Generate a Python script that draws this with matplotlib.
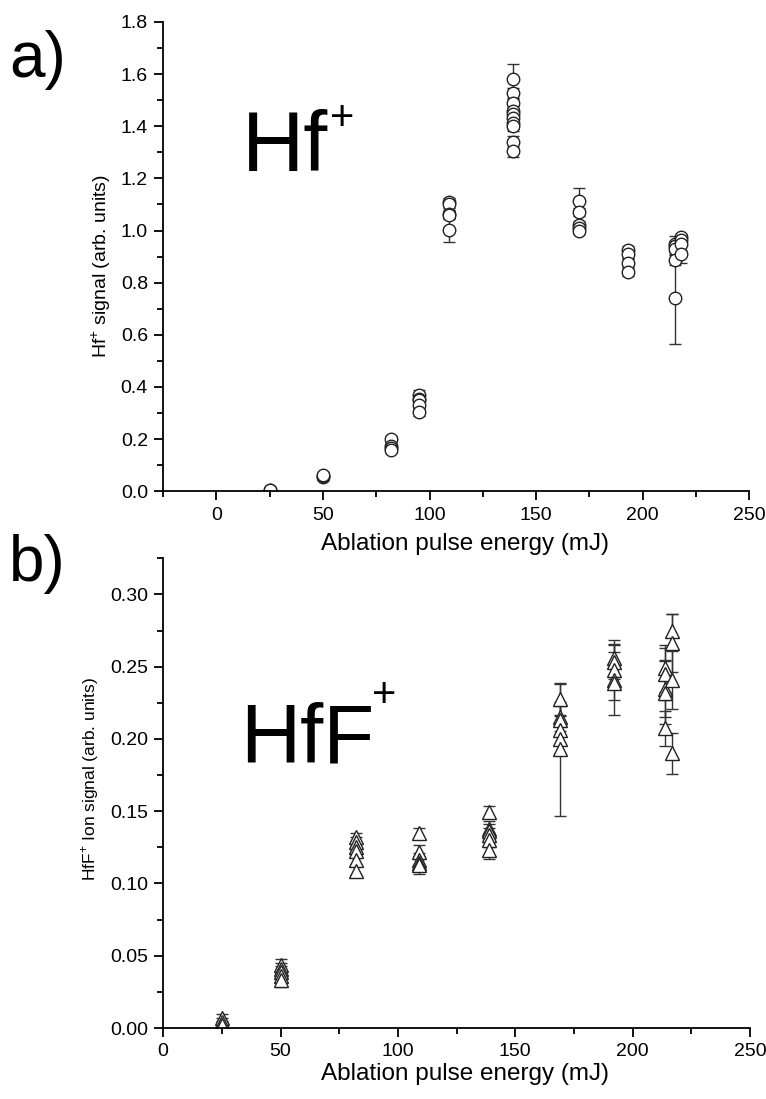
import numpy as np
import matplotlib
matplotlib.use("Agg")
from matplotlib import pyplot as plt
from matplotlib.ticker import MultipleLocator

plt.rcParams['font.family'] = ['Liberation Sans', 'DejaVu Sans']
plt.rcParams['mathtext.fontset'] = 'custom'
plt.rcParams['mathtext.rm'] = 'Liberation Sans'

# a) Hf+ signal vs ablation energy
hf_energy = [25, 25,
             50, 50, 50,
             82, 82, 82, 82,
             95, 95, 95, 95, 95,
             109, 109, 109, 109, 109,
             139, 139, 139, 139, 139, 139, 139, 139, 139, 139,
             170, 170, 170, 170, 170,
             193, 193, 193, 193,
             215, 215, 215, 215, 215,
             218, 218, 218, 218]
hf_signal = [0.004, 0.006,
             0.055, 0.058, 0.062,
             0.200, 0.173, 0.165, 0.157,
             0.368, 0.355, 0.349, 0.330, 0.304,
             1.108, 1.100, 1.065, 1.060, 1.004,
             1.583, 1.526, 1.490, 1.458, 1.446, 1.430, 1.411, 1.400, 1.341, 1.306,
             1.115, 1.071, 1.023, 1.010, 1.000,
             0.927, 0.910, 0.876, 0.842,
             0.950, 0.940, 0.930, 0.887, 0.740,
             0.975, 0.965, 0.947, 0.911]
hf_err = [0.010, 0.008,
          0.010, 0.010, 0.010,
          0.012, 0.010, 0.010, 0.010,
          0.020, 0.015, 0.015, 0.015, 0.015,
          0.015, 0.015, 0.015, 0.015, 0.047,
          0.055, 0.020, 0.020, 0.020, 0.020, 0.020, 0.020, 0.020, 0.020, 0.025,
          0.048, 0.015, 0.015, 0.015, 0.015,
          0.015, 0.015, 0.015, 0.015,
          0.030, 0.020, 0.020, 0.020, 0.176,
          0.010, 0.010, 0.020, 0.035]

# b) HfF+ signal vs ablation energy
hff_energy = [25, 25, 25,
              50, 50, 50, 50, 50,
              82, 82, 82, 82, 82, 82,
              109, 109, 109, 109, 109,
              139, 139, 139, 139, 139, 139,
              169, 169, 169, 169, 169, 169,
              192, 192, 192, 192, 192,
              214, 214, 214, 214, 214,
              217, 217, 217, 217]
hff_signal = [0.0067, 0.0040, 0.0020,
              0.0436, 0.0410, 0.0390, 0.0360, 0.0332,
              0.1319, 0.1289, 0.1254, 0.1224, 0.1162, 0.1088,
              0.1346, 0.1219, 0.1162, 0.1139, 0.1125,
              0.1496, 0.1380, 0.1360, 0.1335, 0.1300, 0.1230,
              0.2273, 0.2153, 0.2130, 0.2061, 0.2003, 0.1930,
              0.2557, 0.2535, 0.2480, 0.2407, 0.2390,
              0.2488, 0.2450, 0.2349, 0.2320, 0.2073,
              0.2745, 0.2665, 0.2407, 0.1900]
hff_err = [0.003, 0.003, 0.003,
           0.004, 0.004, 0.004, 0.004, 0.005,
           0.003, 0.003, 0.003, 0.003, 0.003, 0.003,
           0.004, 0.005, 0.005, 0.005, 0.006,
           0.004, 0.005, 0.005, 0.005, 0.005, 0.006,
           0.011, 0.010, 0.010, 0.010, 0.010, 0.046,
           0.013, 0.012, 0.012, 0.024, 0.012,
           0.016, 0.018, 0.020, 0.022, 0.012,
           0.012, 0.020, 0.020, 0.014]

fig = plt.figure(figsize=(7.66, 10.99), dpi=100)
ax1 = fig.add_axes([0.213, 0.553, 0.765, 0.427])
ax2 = fig.add_axes([0.213, 0.0646, 0.766, 0.4274])


def style_axes(ax):
    for s in ['top', 'right']:
        ax.spines[s].set_visible(False)
    for s in ['left', 'bottom']:
        ax.spines[s].set_linewidth(1.3)
    ax.tick_params(which='major', direction='out', length=6.5, width=1.3, labelsize=14, pad=4.5)
    ax.tick_params(which='minor', direction='out', length=4.3, width=1.3)
    ax.set_xlabel('Ablation pulse energy (mJ)', fontsize=17.5, labelpad=6)


ax1.errorbar(hf_energy, hf_signal, yerr=hf_err, fmt='o', mfc='white', mec='#222222',
             ms=9, mew=1.0, ecolor='#333333', elinewidth=1.0, capsize=4, capthick=1.0)
ax1.set_xlim(-25, 250)
ax1.set_ylim(0, 1.8)
ax1.xaxis.set_major_locator(MultipleLocator(50))
ax1.xaxis.set_minor_locator(MultipleLocator(25))
ax1.yaxis.set_major_locator(MultipleLocator(0.2))
ax1.yaxis.set_minor_locator(MultipleLocator(0.1))
ax1.yaxis.set_major_formatter(plt.FormatStrFormatter('%.1f'))
style_axes(ax1)
ax1.xaxis.set_label_coords(0.515, -0.09)
ax1.set_ylabel(r'Hf$^{\mathregular{+}}$ signal (arb. units)', fontsize=14)
ax1.yaxis.set_label_coords(-0.086, 0.48)
ax1.text(12, 1.23, 'Hf', fontsize=62, va='baseline')
ax1.text(53.5, 1.385, '+', fontsize=30, va='baseline')

ax2.errorbar(hff_energy, hff_signal, yerr=hff_err, fmt='^', mfc='white', mec='#222222',
             ms=10, mew=1.0, ecolor='#333333', elinewidth=1.0, capsize=4, capthick=1.0)
ax2.set_xlim(0, 250)
ax2.set_ylim(0, 0.325)
ax2.xaxis.set_major_locator(MultipleLocator(50))
ax2.xaxis.set_minor_locator(MultipleLocator(25))
ax2.yaxis.set_major_locator(MultipleLocator(0.05))
ax2.yaxis.set_minor_locator(MultipleLocator(0.025))
ax2.yaxis.set_major_formatter(plt.FormatStrFormatter('%.2f'))
style_axes(ax2)
ax2.xaxis.set_label_coords(0.515, -0.075)
ax2.set_ylabel(r'HfF$^{\mathregular{+}}$ Ion signal (arb. units)', fontsize=12.5)
ax2.yaxis.set_label_coords(-0.106, 0.53)
ax2.text(33, 0.184, 'HfF', fontsize=60, va='baseline')
ax2.text(89, 0.222, '+', fontsize=30, va='baseline')

fig.text(0.012, 0.945, 'a)', fontsize=46, va='center')
fig.text(0.012, 0.487, 'b)', fontsize=46, va='center')

fig.savefig('out.png', dpi=100)
